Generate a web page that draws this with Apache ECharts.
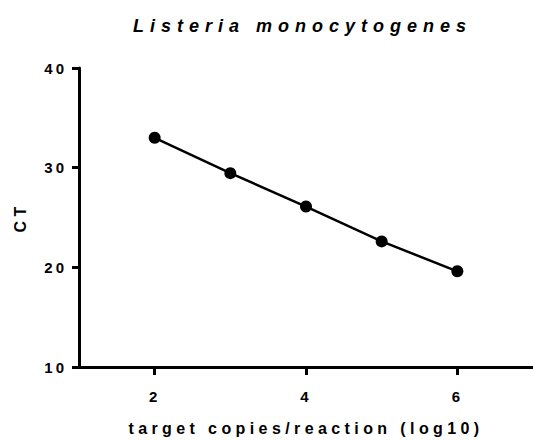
<!DOCTYPE html>
<html>
<head>
<meta charset="utf-8">
<script src="https://cdn.jsdelivr.net/npm/echarts@6/dist/echarts.min.js"></script>
<style>
html,body{margin:0;padding:0;background:#fff;}
#chart{width:533px;height:441px;}
</style>
</head>
<body>
<div id="chart"></div>
<script>
// Data
var xValues = [2, 3, 4, 5, 6];            // target copies/reaction (log10)
var ctValues = [33.0, 29.45, 26.1, 22.6, 19.6]; // CT
var xTickValues = [2, 4, 6];
var titleText = 'Listeria monocytogenes';
var xName = 'target copies/reaction (log10)';
var yName = 'CT';

var FONT = '"Liberation Sans", Arial, Helvetica, sans-serif';
var seriesData = xValues.map(function (x, i) { return [x, ctValues[i]]; });

var chart = echarts.init(document.getElementById('chart'), null, {renderer: 'svg'});
chart.setOption({
  animation: false,
  backgroundColor: '#fff',
  title: {
    text: titleText,
    left: 133,
    top: 17,
    padding: 0,
    textStyle: {fontFamily: FONT, fontSize: 18, fontWeight: 'bold', fontStyle: 'italic', color: '#000'}
  },
  grid: {left: 79, right: 0, top: 68, bottom: 69, containLabel: false},
  xAxis: {
    type: 'value',
    min: 1, max: 7,
    name: xName,
    nameLocation: 'middle',
    nameGap: 53,
    nameTextStyle: {fontFamily: FONT, fontSize: 16, fontWeight: 'bold', color: '#000'},
    axisLine: {show: true, onZero: false, lineStyle: {color: '#000', width: 3}},
    axisTick: {show: true, length: 8, customValues: xTickValues, lineStyle: {color: '#000', width: 3}},
    axisLabel: {customValues: xTickValues, margin: 22, fontFamily: FONT, fontSize: 15, fontWeight: 'bold', color: '#000'},
    splitLine: {show: false}
  },
  yAxis: {
    type: 'value',
    min: 10, max: 40, interval: 10,
    name: yName,
    nameLocation: 'middle',
    nameGap: 51,
    nameTextStyle: {fontFamily: FONT, fontSize: 16, fontWeight: 'bold', color: '#000'},
    axisLine: {show: true, onZero: false, lineStyle: {color: '#000', width: 3}},
    axisTick: {show: true, length: 7, lineStyle: {color: '#000', width: 3}},
    axisLabel: {margin: 12, fontFamily: FONT, fontSize: 15, fontWeight: 'bold', color: '#000'},
    splitLine: {show: false}
  },
  series: [{
    type: 'line',
    data: seriesData,
    symbol: 'circle',
    symbolSize: 12,
    itemStyle: {color: '#000'},
    lineStyle: {color: '#000', width: 2.5}
  }]
});

function applySpacing() {
  var texts = document.querySelectorAll('#chart svg text');
  texts.forEach(function (t) {
    var s = t.textContent;
    var sp = '3px';
    if (s === titleText) sp = '6px';
    else if (s === xName) sp = '4.4px';
    else if (s === yName) sp = '4.4px';
    t.style.letterSpacing = sp;
  });
}
chart.on('finished', applySpacing);
setTimeout(applySpacing, 50);
</script>
</body>
</html>
